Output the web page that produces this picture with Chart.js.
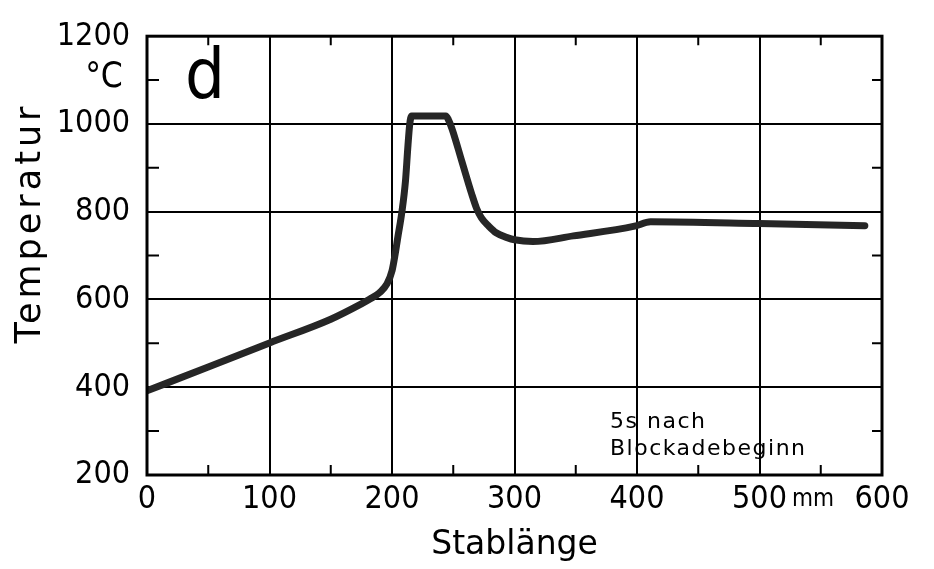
<!DOCTYPE html>
<html>
<head>
<meta charset="utf-8">
<script src="https://cdn.jsdelivr.net/npm/chart.js@4.4.1/dist/chart.umd.min.js"></script>
<style>
  html, body { margin: 0; padding: 0; background: #fff; }
  #wrap { width: 934px; height: 569px; position: relative; }
</style>
</head>
<body>
<div id="wrap"><canvas id="chart"></canvas></div>
<script>
// Stablänge (mm) and temperature (°C)
const stabLaenge = [0, 50, 100, 150, 175, 182, 190, 196, 200, 202.5, 205, 208, 211, 213, 214.5, 216, 244, 246, 249, 257, 265, 269, 273, 279, 285, 294, 300, 315, 348, 398, 411, 500, 586];
const temperatur = [392, 446, 501, 555, 590, 601, 616, 636, 665, 702, 746, 798, 870, 950, 1000, 1018, 1018, 1010, 989, 915, 841, 808, 786, 767, 752, 741, 736, 732, 745, 767, 777, 773, 768];

const xTicks = [0, 100, 200, 300, 400, 500, 600];
const yTicks = [200, 400, 600, 800, 1000, 1200];
const xMinorTicks = [50, 150, 250, 350, 450, 550];
const yMinorTicks = [300, 500, 700, 900, 1100];

const noteLines = ["5s nach", "Blockadebeginn"];

const tickFont = { family: "DejaVu Sans Condensed", size: 32 };

// extra drawing: frame, minor ticks, labels
const extras = {
    id: "extras",
    afterDraw(chart) {
        const { ctx, chartArea: a, scales } = chart;
        const sx = scales.x, sy = scales.y;
        ctx.save();
        ctx.strokeStyle = "#000";
        ctx.lineWidth = 2;
        xMinorTicks.forEach(v => {
            const px = sx.getPixelForValue(v);
            ctx.beginPath();
            ctx.moveTo(px, a.bottom); ctx.lineTo(px, a.bottom - 10);
            ctx.moveTo(px, a.top); ctx.lineTo(px, a.top + 9);
            ctx.stroke();
        });
        yMinorTicks.forEach(v => {
            const py = sy.getPixelForValue(v);
            ctx.beginPath();
            ctx.moveTo(a.left, py); ctx.lineTo(a.left + 12, py);
            ctx.moveTo(a.right, py); ctx.lineTo(a.right - 10, py);
            ctx.stroke();
        });
        ctx.lineWidth = 3;
        ctx.strokeRect(a.left, a.top, a.right - a.left, a.bottom - a.top);

        ctx.fillStyle = "#000";
        // y axis title
        ctx.save();
        ctx.translate(31, 223);
        ctx.rotate(-Math.PI / 2);
        ctx.font = "35px 'DejaVu Sans'";
        ctx.letterSpacing = "4px";
        ctx.textAlign = "center";
        ctx.textBaseline = "middle";
        ctx.fillText("Temperatur", 0, 0);
        ctx.restore();

        // units
        ctx.font = "35px 'DejaVu Sans Condensed'";
        ctx.textAlign = "center";
        ctx.textBaseline = "alphabetic";
        ctx.fillText("°C", 104, 87);
        ctx.font = "24px 'DejaVu Sans Condensed'";
        ctx.fillText("mm", 813, 506);

        // panel letter
        ctx.font = "70px 'DejaVu Sans Condensed'";
        ctx.fillText("d", 205, 98);

        // note
        ctx.font = "22px 'DejaVu Sans'";
        ctx.letterSpacing = "1.5px";
        ctx.textAlign = "left";
        ctx.fillText(noteLines[0], 610, 428);
        ctx.fillText(noteLines[1], 610, 455);
        ctx.restore();
    }
};

const ctx = document.getElementById("chart");
new Chart(ctx, {
    type: "line",
    data: {
        datasets: [{
            data: stabLaenge.map((x, i) => ({ x: x, y: temperatur[i] })),
            borderColor: "#262626",
            borderWidth: 7,
            pointRadius: 0,
            fill: false,
            cubicInterpolationMode: "monotone",
            borderCapStyle: "round",
            borderJoinStyle: "round",
        }]
    },
    options: {
        responsive: true,
        maintainAspectRatio: false,
        animation: false,
        layout: { padding: { top: 24, right: 52, left: 0, bottom: 0 } },
        plugins: { legend: { display: false }, tooltip: { enabled: false } },
        scales: {
            x: {
                type: "linear",
                min: 0,
                max: 600,
                afterBuildTicks: (scale) => { scale.ticks = xTicks.map(v => ({ value: v })); },
                afterFit: (scale) => { scale.height = 94; },
                grid: { color: "#000", lineWidth: 2, drawTicks: false },
                border: { display: false },
                ticks: { color: "#000", font: tickFont, padding: 5, maxRotation: 0, callback: (v) => String(v) },
                title: {
                    display: true,
                    text: "Stablänge",
                    color: "#000",
                    font: { family: "DejaVu Sans", size: 33 },
                    padding: { top: 0, bottom: 4 },
                },
            },
            y: {
                min: 200,
                max: 1200,
                afterBuildTicks: (scale) => { scale.ticks = yTicks.map(v => ({ value: v })); },
                afterFit: (scale) => { scale.width = 147; },
                grid: { color: "#000", lineWidth: 2, drawTicks: false },
                border: { display: false },
                ticks: { color: "#000", font: tickFont, padding: 17, callback: (v) => String(v) },
            },
        },
    },
    plugins: [extras],
});
</script>
</body>
</html>
